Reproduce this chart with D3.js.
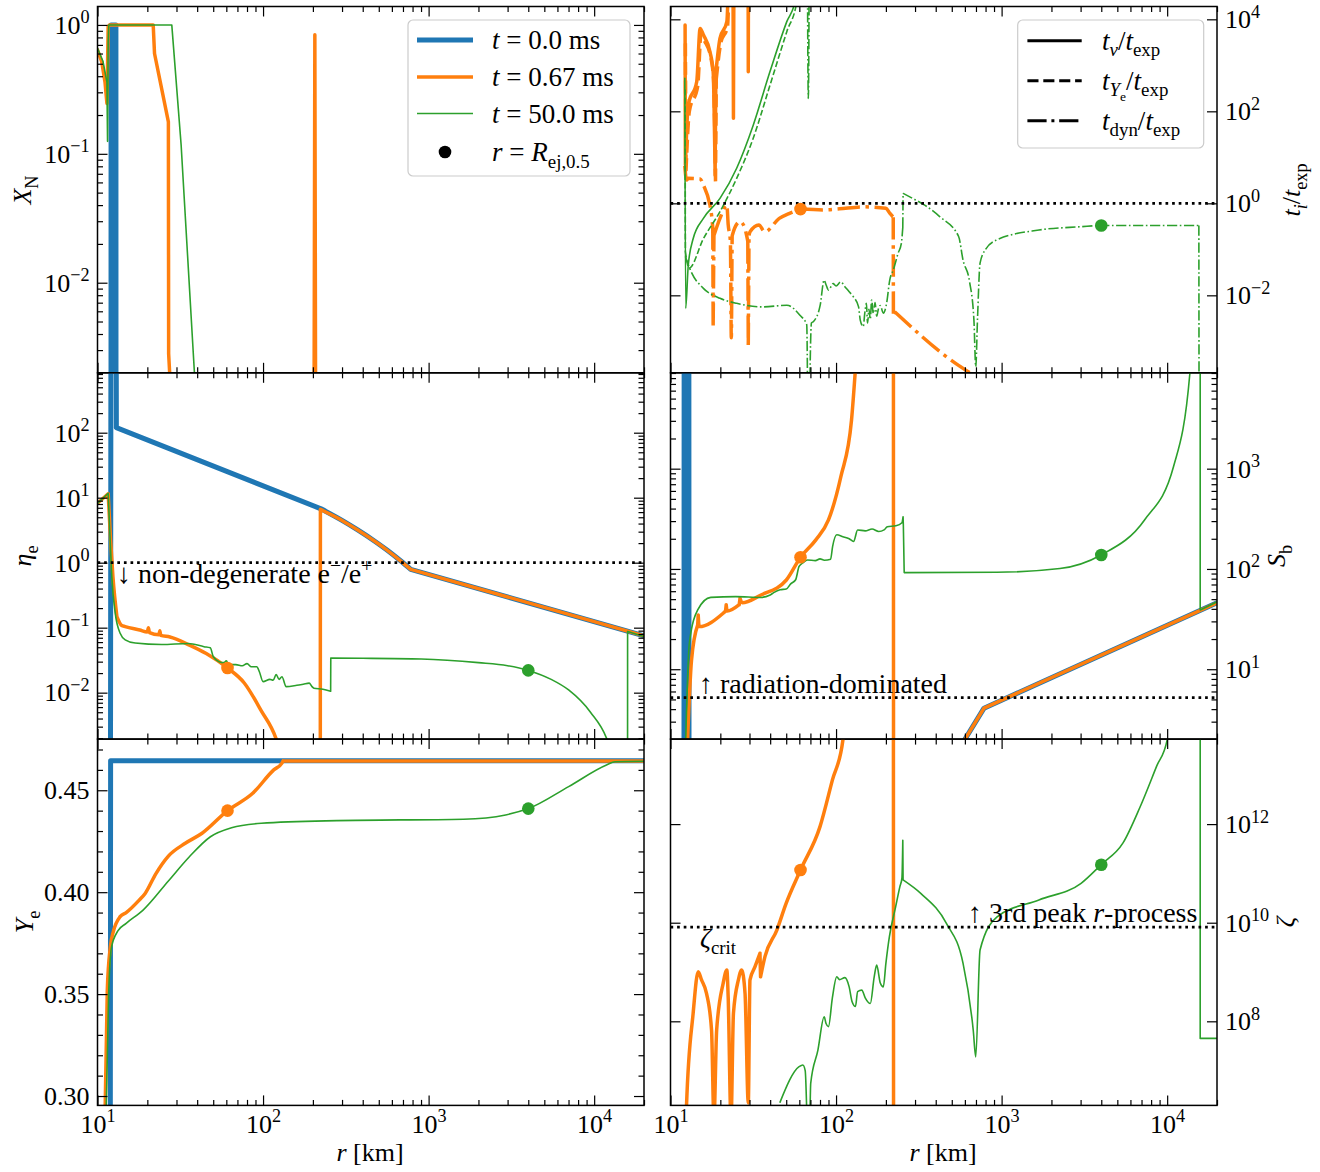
<!DOCTYPE html>
<html><head><meta charset="utf-8">
<script src="https://cdn.jsdelivr.net/npm/d3@7"></script>
<style>
body{margin:0;background:#fff}
svg{display:block}
text{font-family:"Liberation Serif","DejaVu Serif",serif;fill:#000;white-space:pre}
</style>
</head><body>
<svg id="c" width="1320" height="1172"></svg>
<script>
// ---------------- DATA ----------------
const rDomain = [10, 2e4];
const xMajorTicks = [10, 100, 1000, 10000];

// X_N panel
const XN_blue   = [[12.05,1e-6],[12.08,1],[12.92,1],[12.95,1e-6]];
const XN_orange = [[10,0.64],[10.6,0.52],[11.1,0.36],[11.4,0.246],[11.6,0.97],[11.8,1.0],[21.7,1.0],[22.1,0.60],[26.8,0.177],[26.9,2.8e-3],[28.1,1e-3],[30,1e-6],[201,1e-6],[205.5,0.84],[210,1e-6],[2e4,1e-6]];
const XN_green  = [[10,0.66],[10.8,0.52],[11.4,0.36],[11.5,0.125],[11.6,0.74],[11.7,1.0],[28.1,1.0],[32.0,0.117],[38.5,2e-3],[42,1e-3]];

// eta_e panel
const eta_blue   = [[11.95,1e-6],[12.08,1e6],[12.92,1e6],[13.0,120],[222,6.8],[300,4.47],[375,3.16],[480,2.08],[563,1.55],[680,1.06],[780,0.79],[2e4,0.075]];
const eta_orange = [[10,8.2],[11.6,11.5],[12.0,2.2],[12.4,0.6],[13.1,0.148],[14.0,0.108],[14.7,0.104],[18,0.092],[20,0.086],[20.3,0.1],[20.6,0.084],[23.5,0.078],[23.8,0.09],[24.1,0.076],[27.4,0.072],[35.9,0.054],[45.4,0.040],[61,0.024],[77,0.0141],[97.4,5.3e-3],[119.5,2e-3],[130,1e-3],[150,1e-6],[221.5,1e-6],[222,6.6],[300,4.47],[375,3.16],[480,2.08],[563,1.55],[680,1.06],[780,0.79],[2e4,0.075]];
const eta_green  = [[10,8.2],[11.6,11.7],[11.9,2.5],[12.2,0.61],[12.8,0.166],[13.7,0.082],[14.7,0.065],[16.9,0.058],[24.4,0.055],[35.4,0.057],[44,0.051],[48,0.049],[50,0.036],[54.2,0.030],[58,0.029],[60,0.031],[62,0.027],[68.5,0.027],[75,0.026],[80,0.028],[85,0.025],[91.6,0.025],[95,0.021],[100,0.0148],[110,0.016],[115,0.0155],[120,0.019],[125,0.016],[130,0.0176],[138,0.0124],[160,0.013],[175,0.0135],[190,0.014],[197,0.0125],[203,0.0117],[230,0.0113],[256,0.0105],[256.5,0.034],[400,0.0338],[902,0.033],[2000,0.029],[3000,0.026],[4000,0.022],[5500,0.016],[7010,0.011],[9500,5e-3],[11870,2e-3],[13000,1e-3],[14000,1e-6],[15900,1e-6],[15920,0.087],[2e4,0.073]];

// Y_e panel
const Ye_blue   = [[11.95,0.28],[12.0,0.4645],[2e4,0.4645]];
const Ye_orange = [[11.1,0.29],[11.46,0.352],[11.95,0.373],[12.5,0.381],[13.7,0.388],[14.9,0.390],[17.8,0.396],[19.4,0.3994],[22.5,0.409],[26.8,0.4177],[33.9,0.424],[42.8,0.4289],[61,0.440],[86.6,0.4485],[116,0.46],[130,0.4633],[132,0.4644],[2e4,0.4644]];
const Ye_green  = [[11.26,0.29],[11.67,0.349],[12.15,0.373],[13.27,0.381],[14.9,0.3847],[18.85,0.3912],[26.8,0.4055],[35.9,0.4174],[48.1,0.4272],[64.5,0.4316],[97.6,0.4338],[279,0.4351],[1628,0.4358],[2920,0.4379],[4000,0.441],[7010,0.4518],[11870,0.4624],[13370,0.4640],[2e4,0.4642]];

// t_i / t_exp panel
const tnu_orange  = [[12.25,7500],[12.3,6.8],[12.8,137],[14.4,440],[15.1,6350],[15.8,4600],[17.3,1980],[18.1,725],[18.6,4.1],[18.8,700],[19.9,3840],[21.9,8900],[23.0,1e6],[23.8,1e6],[24.0,70.5],[24.2,1e6],[29.4,1e6],[29.5,725],[29.6,1e6],[2e4,1e6]];
const tYe_orange  = [[12.3,3000],[12.4,5.0],[13.0,100],[14.6,350],[15.3,5000],[16.0,3500],[17.5,1500],[18.2,500],[18.7,3.0],[18.9,500],[20.1,3000],[22.1,7000],[23.2,1e6],[2e4,1e6]];
const tdyn_orange = [[12.2,6.5],[12.5,3.2],[12.8,3.5],[15.1,3.4],[15.8,2.5],[17.3,0.92],[17.7,0.56],[18.0,0.3],[18.1,2.2e-3],[18.3,0.2],[19.9,0.47],[21.9,0.92],[22.3,0.35],[23.0,0.15],[23.3,1.2e-3],[23.6,0.2],[26.3,0.4],[28,0.3],[29.3,0.15],[29.5,8.3e-4],[29.8,0.2],[30.2,0.24],[34.2,0.34],[37.1,0.24],[45.4,0.47],[52,0.6],[61,0.75],[86,0.72],[105,0.76],[146,0.84],[200,0.78],[211,0.61],[221.5,0.5],[222,4e-3],[226,4.4e-3],[549,3e-4],[640,2.1e-4],[800,5e-5]];
const tnu_green   = [[12.2,523],[12.35,5.2e-3],[12.8,0.045],[13.7,0.17],[15.8,0.47],[19.9,1.28],[25.1,5.8],[31.6,50],[39.9,730],[50.4,8900],[56.6,2.5e4],[60,1e6]];
const tYe_green   = [[12.25,300],[12.3,0.089],[12.95,0.039],[15.8,0.17],[19.9,0.66],[25.1,3.5],[31.6,26],[39.9,370],[50.4,5400],[58,2.5e4],[62,1e6]];
const tdyn_green  = [[12.3,0.07],[13.3,0.033],[15.8,0.0142],[19.9,8.6e-3],[25.1,6.7e-3],[36,5.6e-3],[50.4,6.1e-3],[60.5,3.7e-3],[66.5,2.3e-3],[67.8,1e-6],null,[67.0,1e6],[68.0,190],[69.0,1e6],null,[68.3,1e-6],[71,2.5e-3],[73.1,2.7e-3],[80.2,6.1e-3],[84.7,0.0215],[87,0.017],[90,0.013],[96,0.018],[100,0.016],[106.8,0.0196],[113,0.0154],[120,0.012],[127,0.0094],[136.8,5.6e-3],[140,2.9e-3],[146,2.1e-3],[149,4e-3],[152.5,6.7e-3],[155,2.5e-3],[158,5e-3],[161,3e-3],[164,7.9e-3],[168,4e-3],[172,7e-3],[176,3.5e-3],[180,5e-3],[185,6e-3],[193,4.1e-3],[202,6.7e-3],[211,0.0215],[222,0.036],[237,0.082],[248,0.135],[253,0.3],[254,1.65],[300,1.2],[337,0.95],[424,0.51],[550,0.19],[585,0.058],[640,0.02],[680,3e-3],[698,2.8e-4],[715,3e-3],[741,0.05],[800,0.1],[935,0.16],[1680,0.263],[3020,0.31],[4000,0.33],[15540,0.33],[15600,1e-6]];

// S_b panel
const Sb_blue   = [[12.05,0.01],[12.1,1e6],[12.9,1e6],[12.95,0.01],[440,0.01],[450,0.92],[783,4.09],[2e4,46]];
const Sb_orange = [[12.3,0.5],[13.4,12.4],[14.6,27.7],[14.7,34.8],[14.9,26.6],[20.8,36.2],[21.5,38],[21.7,44],[22.0,38],[26,44],[26.3,51],[27.1,46],[35.2,55],[50.1,77.6],[61,131],[75.5,195],[90,308],[107,837],[124,3060],[131,1e4],[140,1e6],[222,1e6],[222.5,0.01],[440,0.01],[450,0.92],[783,4.09],[2e4,46]];
const Sb_green  = [[12.1,0.5],[13.0,18.2],[14.6,39.1],[17.5,52.1],[24.8,53],[35.2,52],[40,55],[42,58],[45.9,62],[50,63],[53.2,71],[57,78],[59.8,106],[63,115],[67.2,123],[75,121],[80,126],[85,122],[92.7,125],[95.3,167],[101,219],[110,210],[120,200],[127.6,188],[135,245],[150,240],[165,250],[181,236],[195,245],[204,264],[230,270],[250,289],[254,332],[255,270],[258,92],[935,92.7],[2250,101],[3990,138],[7300,308],[10930,1050],[13720,9000],[14500,1e6],[15830,1e6],[15831,39],[2e4,47]];

// zeta panel
const zeta_orange = [[12.3,1e5],[12.5,2e6],[13.7,1.45e8],[14.7,1.01e9],[15.4,6.9e8],[16.5,3.7e8],[17.7,6.6e7],[18.3,1e6],[19.0,6.6e7],[20.8,5.9e8],[21.9,1.1e9],[22.3,3.15e8],[23.2,1e6],[24.0,1.45e8],[25.7,6.9e8],[26.9,1.1e9],[28.2,3.7e8],[29.5,2.2e6],[30.2,6.9e8],[32.4,1.28e9],[34.7,2.4e9],[35.0,8.0e8],[37.2,2.05e9],[43.9,7.1e9],[50,2.5e10],[61,1.17e11],[80,8.9e11],[95,7.8e12],[110,5.1e13],[120,1e15],[222,1e15],[222.5,1e5]];
const zeta_green  = [[45.9,2.3e6],[59.8,1.2e7],[63,1.3e7],[65.1,1e7],[68.5,1e5],[70.3,5.5e6],[77.7,2.6e7],[84.8,1.24e8],[87,9e7],[90,7.8e7],[95,3e8],[101,8.0e8],[105,7e8],[113,7.7e8],[120,5e8],[125,2.5e8],[131,2e8],[135,4e8],[143,4.3e8],[150,3e8],[161,2.3e8],[170,8e8],[176,1.38e9],[185,6e8],[193,5.0e8],[200,1.5e9],[210,5.2e9],[229,2.1e10],[243,5.4e10],[250,8e10],[253,4.7e11],[254,7.4e10],[326,3.9e10],[464,9.7e9],[585,1.5e9],[674,6.6e7],[698,1.9e7],[741,2.8e9],[935,1.3e10],[1680,2.9e10],[3020,6.3e10],[3990,1.5e11],[5400,4.1e11],[6850,2.2e12],[8640,1.5e13],[10000,5.1e13],[11000,1e15],[15830,1e15],[15831,4.5e7],[2e4,4.5e7]];

// markers r = R_ej,0.5  (orange, green)
const markR    = [61, 4000];
const markEta  = [0.024, 0.022];
const markYe   = [0.440, 0.441];
const markT    = [0.75, 0.33];
const markSb   = [131, 138];
const markZeta = [1.17e11, 1.5e11];

// reference lines
const etaRef = 1, tRef = 1, SbRef = 5.2, zetaCrit = 8.1e9;

// axis domains and ticks
const XN_domain = [2.0e-3, 1.39],   XN_ticks = [1e-2, 1e-1, 1];
const eta_domain = [1.93e-3, 835],  eta_ticks = [1e-2, 1e-1, 1, 10, 100];
const Ye_domain = [0.2954, 0.4751], Ye_ticks = [0.30, 0.35, 0.40, 0.45];
const t_domain = [2.07e-4, 1.9e4],  t_ticks = [1e-2, 1, 1e2, 1e4];
const Sb_domain = [2.01, 9040],     Sb_ticks = [10, 100, 1000];
const zeta_domain = [1.97e6, 5.3e13], zeta_ticks = [1e8, 1e10, 1e12];

// ---------------- LAYOUT / STYLE ----------------
const C = {blue:'#1f77b4', orange:'#ff7f0e', green:'#2ca02c'};
const LW = {blue:5, orange:3.5, green:1.6};
const W = 546.5, H = 366.3;
const colX = [97.5, 670.5], rowY = [6.5, 372.8, 739.1];
const FS = 26;   // tick labels
const TS = 27;   // legend / annotation text
const svg = d3.select('#c');

function rich(parent, x, y, parts, opt={}) {
  const fs = opt.size || TS;
  const t = parent.append('text').attr('x', x).attr('y', y).attr('font-size', fs)
    .attr('text-anchor', opt.anchor || 'start');
  if (opt.rotate) t.attr('transform', `rotate(${opt.rotate},${x},${y})`);
  let cur = 0;
  parts.forEach(([s, k]) => {
    let off = 0, size = fs, it = false;
    if (k === 'i') it = true;
    else if (k === 'sub') { off = 0.25*fs; size = 0.7*fs; }
    else if (k === 'subi') { off = 0.25*fs; size = 0.7*fs; it = true; }
    else if (k === 'subsub') { off = 0.42*fs; size = 0.5*fs; }
    else if (k === 'sup') { off = -0.4*fs; size = 0.7*fs; }
    const ts = t.append('tspan').attr('dy', off - cur).attr('font-size', size).text(s);
    if (it) ts.attr('font-style', 'italic');
    cur = off;
  });
  return t;
}

function logMinor(domain) {
  const out = [];
  const e0 = Math.floor(Math.log10(domain[0])), e1 = Math.ceil(Math.log10(domain[1]));
  for (let e = e0; e <= e1; e++) for (let m = 2; m <= 9; m++) {
    const v = m * Math.pow(10, e);
    if (v >= domain[0] && v <= domain[1]) out.push(v);
  }
  return out;
}

function supFormat(g) {
  g.selectAll('.tick text').each(function(d) {
    const el = d3.select(this);
    const k = Math.round(Math.log10(d));
    el.text(null);
    el.append('tspan').text('10');
    el.append('tspan').attr('dy', -0.4*FS).attr('font-size', 0.7*FS).text(k < 0 ? '\u2212' + (-k) : String(k));
  });
}

function styleAxis(g) {
  g.attr('font-size', FS).attr('font-family', 'Liberation Serif, serif');
  g.select('.domain').remove();
  g.selectAll('.tick line').attr('stroke', '#000').attr('stroke-width', 1.2);
  g.selectAll('.tick text').attr('fill', '#000');
}

const panels = [
  {id:'xn',  col:0, row:0, log:true,  domain:XN_domain,  ticks:XN_ticks,  minor:true, side:'left',
   series:[{d:XN_blue,c:'blue',linear:true},{d:XN_orange,c:'orange',linear:true},{d:XN_green,c:'green',linear:true}]},
  {id:'eta', col:0, row:1, log:true,  domain:eta_domain, ticks:eta_ticks, minor:true, side:'left', ref:etaRef,
   series:[{d:eta_blue,c:'blue',corners:[13.0,222,780]},{d:eta_orange,c:'orange',corners:[11.6,13.1,780]},{d:eta_green,c:'green',corners:[11.6,256.5]}], marks:markEta},
  {id:'ye',  col:0, row:2, log:false, domain:Ye_domain,  ticks:Ye_ticks,  minor:true, side:'left',
   series:[{d:Ye_blue,c:'blue',linear:true},{d:Ye_orange,c:'orange',corners:[132]},{d:Ye_green,c:'green'}], marks:markYe},
  {id:'t',   col:1, row:0, log:true,  domain:t_domain,   ticks:t_ticks,   minor:false, side:'right', ref:tRef,
   series:[{d:tnu_orange,c:'orange'},{d:tYe_orange,c:'orange',dash:'dashed'},{d:tdyn_orange,c:'orange',dash:'dashdot',corners:[61,222,226,640]},
           {d:tnu_green,c:'green'},{d:tYe_green,c:'green',dash:'dashed'},{d:tdyn_green,c:'green',dash:'dashdot'}], marks:markT},
  {id:'sb',  col:1, row:1, log:true,  domain:Sb_domain,  ticks:Sb_ticks,  minor:true, side:'right', ref:SbRef,
   series:[{d:Sb_blue,c:'blue',linear:true},{d:Sb_orange,c:'orange',corners:[131,450,783]},{d:Sb_green,c:'green',corners:[258]}], marks:markSb},
  {id:'z',   col:1, row:2, log:true,  domain:zeta_domain, ticks:zeta_ticks, minor:false, side:'right', ref:zetaCrit,
   series:[{d:zeta_orange,c:'orange'},{d:zeta_green,c:'green'}], marks:markZeta}
];

function dashArr(kind, lw) {
  if (kind === 'dashed') return `${3.7*lw},${1.6*lw}`;
  if (kind === 'dashdot') return `${6.4*lw},${1.6*lw},${1*lw},${1.6*lw}`;
  return null;
}

// build path: split at null gaps, near-vertical jumps and corners; smooth runs with monotone curves
function buildPath(s, x, y) {
  const smooth = d3.line().x(d => x(d[0])).y(d => y(d[1])).curve(s.linear ? d3.curveLinear : d3.curveMonotoneX);
  const straight = d3.line().x(d => x(d[0])).y(d => y(d[1]));
  const corners = s.corners || [];
  const isCorner = d => corners.some(c => Math.abs(c - d[0]) < 1e-9);
  const segs = [[]];
  s.d.forEach(d => { if (d == null) segs.push([]); else segs[segs.length-1].push(d); });
  let out = '';
  segs.filter(g => g.length > 1).forEach(seg => {
    let run = [seg[0]];
    for (let i = 1; i < seg.length; i++) {
      const a = seg[i-1], b = seg[i];
      if (Math.abs(Math.log10(b[0]/a[0])) < 0.005) {
        if (run.length > 1) out += smooth(run);
        out += straight([a, b]);
        run = [b];
      } else {
        run.push(b);
        if (isCorner(b)) { out += smooth(run); run = [b]; }
      }
    }
    if (run.length > 1) out += smooth(run);
  });
  return out;
}

panels.forEach(p => {
  const g = svg.append('g').attr('transform', `translate(${colX[p.col]},${rowY[p.row]})`);
  const x = d3.scaleLog().domain(rDomain).range([0, W]);
  const y = (p.log ? d3.scaleLog() : d3.scaleLinear()).domain(p.domain).range([H, 0]);
  const cid = 'clip-' + p.id;
  g.append('clipPath').attr('id', cid).append('rect').attr('width', W).attr('height', H);
  const plot = g.append('g').attr('clip-path', `url(#${cid})`);
  p.series.forEach(s => {
    const lw = LW[s.c];
    const path = plot.append('path').attr('d', buildPath(s, x, y))
      .attr('fill', 'none').attr('stroke', C[s.c]).attr('stroke-width', lw)
      .attr('stroke-linejoin', 'round');
    const da = dashArr(s.dash, lw);
    if (da) path.attr('stroke-dasharray', da);
    else path.attr('stroke-linecap', 'round');
  });
  if (p.ref != null) {
    plot.append('line').attr('x1', 0).attr('x2', W).attr('y1', y(p.ref)).attr('y2', y(p.ref))
      .attr('stroke', '#000').attr('stroke-width', 2.7).attr('stroke-dasharray', '2.7,3.9');
  }
  if (p.marks) {
    plot.selectAll('circle.m').data(markR.map((r, i) => [r, p.marks[i], i])).join('circle')
      .attr('cx', d => x(d[0])).attr('cy', d => y(d[1])).attr('r', 6.3)
      .attr('fill', d => d[2] === 0 ? C.orange : C.green);
  }
  // frame
  g.append('rect').attr('width', W).attr('height', H).attr('fill', 'none')
    .attr('stroke', '#000').attr('stroke-width', 1.5);
  // x axes
  const xMinor = logMinor(rDomain).filter(v => v <= 2e4);
  const bottomLabels = p.row === 2;
  const xb = g.append('g').attr('transform', `translate(0,${H})`)
    .call(d3.axisBottom(x).tickValues(xMajorTicks).tickSize(-10).tickPadding(9).tickFormat(bottomLabels ? (d => d) : ''));
  styleAxis(xb); if (bottomLabels) supFormat(xb);
  styleAxis(g.append('g').attr('transform', `translate(0,${H})`).call(d3.axisBottom(x).tickValues(xMinor).tickSize(-5.5).tickFormat('')));
  styleAxis(g.append('g').call(d3.axisTop(x).tickValues(xMajorTicks).tickSize(-10).tickFormat('')));
  styleAxis(g.append('g').call(d3.axisTop(x).tickValues(xMinor).tickSize(-5.5).tickFormat('')));
  // y axes
  const fmt = p.log ? (d => d) : d3.format('.2f');
  const labelAxis = p.side === 'left' ? d3.axisLeft(y) : d3.axisRight(y);
  const otherAxis = p.side === 'left' ? d3.axisRight(y) : d3.axisLeft(y);
  const ya = g.append('g').attr('transform', `translate(${p.side === 'left' ? 0 : W},0)`)
    .call(labelAxis.tickValues(p.ticks).tickSize(-10).tickPadding(8).tickFormat(fmt));
  styleAxis(ya); if (p.log) supFormat(ya);
  styleAxis(g.append('g').attr('transform', `translate(${p.side === 'left' ? W : 0},0)`)
    .call(otherAxis.tickValues(p.ticks).tickSize(-10).tickFormat('')));
  if (p.minor) {
    const ym = p.log ? logMinor(p.domain) : d3.range(30, 48).map(v => v/100).filter(v => v > p.domain[0] && v < p.domain[1] && Math.abs(v*100 % 5) > 1e-6);
    styleAxis(g.append('g').call(d3.axisLeft(y).tickValues(ym).tickSize(-5.5).tickFormat('')));
    styleAxis(g.append('g').attr('transform', `translate(${W},0)`)
      .call(d3.axisRight(y).tickValues(ym).tickSize(-5.5).tickFormat('')));
  }
});

// axis labels
const LS = 26;
rich(svg, 31, 190, [['X','i'],['N','sub']], {size:LS, anchor:'middle', rotate:-90});
rich(svg, 31, 556, [['\u03b7','i'],['e','sub']], {size:LS, anchor:'middle', rotate:-90});
rich(svg, 33, 922, [['Y','i'],['e','sub']], {size:LS, anchor:'middle', rotate:-90});
rich(svg, 1300, 190, [['t','i'],['i','subi'],['/','r'],['t','i'],['exp','sub']], {size:LS, anchor:'middle', rotate:-90});
rich(svg, 1285, 556, [['S','i'],['b','sub']], {size:LS, anchor:'middle', rotate:-90});
rich(svg, 1294, 922, [['\u03b6','i']], {size:LS, anchor:'middle', rotate:-90});
rich(svg, 370, 1161, [['r','i'],[' [km]','r']], {size:LS, anchor:'middle'});
rich(svg, 943, 1161, [['r','i'],[' [km]','r']], {size:LS, anchor:'middle'});

// annotations
rich(svg, 117, 583, [['\u2193 non-degenerate e','r'],['\u2212','sup'],['/e','r'],['+','sup']], {size:TS+1});
rich(svg, 699, 693, [['\u2191 radiation-dominated','r']], {size:TS+1});
rich(svg, 700, 947, [['\u03b6','i'],['crit','sub']], {size:TS});
rich(svg, 968, 922, [['\u2191 3rd peak ','r'],['r','i'],['-process','r']], {size:TS+1});

// legend 1
const lg1 = svg.append('g');
lg1.append('rect').attr('x', 408).attr('y', 20).attr('width', 222).attr('height', 156).attr('rx', 5)
  .attr('fill', '#fff').attr('fill-opacity', 0.8).attr('stroke', '#cccccc').attr('stroke-width', 1.2);
const leg1 = [
  {c:'blue', y:40, parts:[['t','i'],[' = 0.0 ms','r']]},
  {c:'orange', y:77, parts:[['t','i'],[' = 0.67 ms','r']]},
  {c:'green', y:113.5, parts:[['t','i'],[' = 50.0 ms','r']]}
];
leg1.forEach(e => {
  lg1.append('line').attr('x1', 417).attr('x2', 473).attr('y1', e.y).attr('y2', e.y)
    .attr('stroke', C[e.c]).attr('stroke-width', LW[e.c]);
  rich(lg1, 492, e.y + 9, e.parts, {size:TS});
});
lg1.append('circle').attr('cx', 445).attr('cy', 152).attr('r', 6.3).attr('fill', '#000');
rich(lg1, 492, 161, [['r','i'],[' = ','r'],['R','i'],['ej,0.5','sub']], {size:TS});

// legend 2
const lg2 = svg.append('g');
lg2.append('rect').attr('x', 1017.7).attr('y', 20).attr('width', 186).attr('height', 128).attr('rx', 5)
  .attr('fill', '#fff').attr('fill-opacity', 0.8).attr('stroke', '#cccccc').attr('stroke-width', 1.2);
const leg2 = [
  {y:40.7, dash:null, parts:[['t','i'],['\u03bd','subi'],['/','r'],['t','i'],['exp','sub']]},
  {y:80.7, dash:'dashed', parts:[['t','i'],['Y','subi'],['e','subsub'],['/','r'],['t','i'],['exp','sub']]},
  {y:120.7, dash:'dashdot', parts:[['t','i'],['dyn','sub'],['/','r'],['t','i'],['exp','sub']]}
];
leg2.forEach(e => {
  const l = lg2.append('line').attr('x1', 1027.4).attr('x2', 1081.7).attr('y1', e.y).attr('y2', e.y)
    .attr('stroke', '#000').attr('stroke-width', 3);
  const da = dashArr(e.dash, 3);
  if (da) l.attr('stroke-dasharray', da);
  rich(lg2, 1102, e.y + 9, e.parts, {size:TS});
});
</script>
</body></html>
